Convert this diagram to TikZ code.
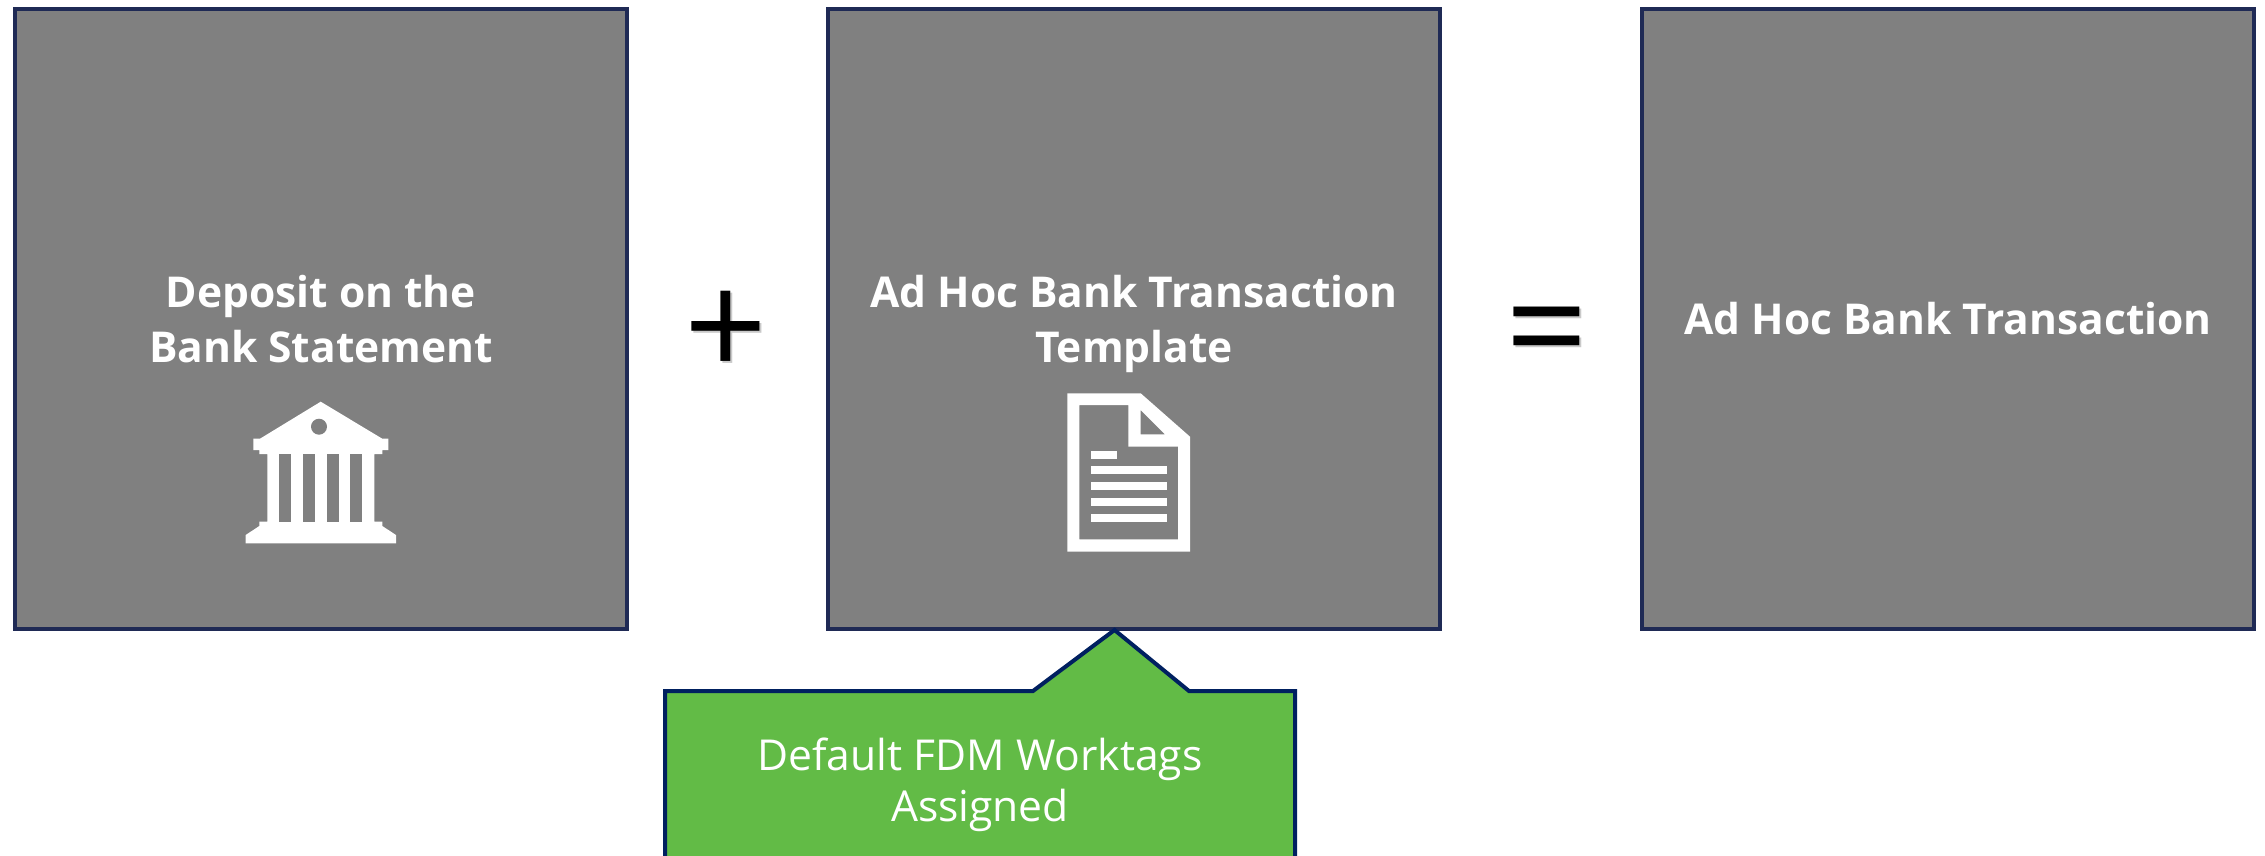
\documentclass[tikz,border=0pt]{standalone}
\usepackage{fontspec}
\setmainfont{Open Sans}
\definecolor{boxgray}{HTML}{808080}
\definecolor{boxline}{HTML}{1F2A55}
\definecolor{tagline}{HTML}{002060}
\definecolor{taggreen}{HTML}{62BB46}
\tikzset{
    panel/.style={draw=boxline, fill=boxgray, line width=4pt, minimum width=612pt, minimum height=620pt,
        inner sep=0pt, text=white, align=center, font=\fontsize{42.5}{55}\selectfont\bfseries},
    sign/.style={inner sep=0pt, anchor=base, font=\fontsize{145}{145}\selectfont},
    signshadow/.style={sign, text=black!30, opacity=0.7},
    icon/.style={fill=white, draw=none},
    iconhole/.style={fill=boxgray, draw=none}
}

\begin{document}
\begin{tikzpicture}[x=1pt,y=-1pt]
    \useasboundingbox (0,0) rectangle (2265,856);

    \node[panel] (deposit) at (321,319) {Deposit on the\\Bank Statement};
    \node[panel] (template) at (1134,319) {Ad Hoc Bank Transaction\\Tem\smash{p}late};
    \node[panel] (result) at (1948,319) {Ad Hoc Bank Transaction};

    \node[signshadow] at (728,379) {+};
    \node[sign] (plus) at (726,377) {+};
    \node[signshadow] at (1549,379) {=};
    \node[sign] (equals) at (1547,377) {=};

    % green tag, runs off the bottom edge
    \begin{scope}
    \clip (0,0) rectangle (2265,856);
    \draw[draw=tagline, fill=taggreen, line width=4pt, line join=miter]
        (665,870) -- (665,691) -- (1033,691) -- (1114.5,630) -- (1189,691) -- (1295,691) -- (1295,870) -- cycle;
    \end{scope}
    \node[text=white, align=center, inner sep=0pt, font=\fontsize{42.6}{51}\selectfont] (worktags) at (980,785)
        {Default FDM Worktags\\Assigned};

    % bank icon
    \fill[icon] (320.7,401.7) -- (382.3,438.7) -- (388.3,438.7) -- (388.3,450) -- (382.3,450) -- (382.3,454)
        -- (374.3,454) -- (374.3,521.7) -- (382.3,521.7) -- (382.3,526) -- (396,535) -- (396,543.3)
        -- (245.7,543.3) -- (245.7,535) -- (259.3,526) -- (259.3,521.7) -- (267.3,521.7) -- (267.3,454)
        -- (259.3,454) -- (259.3,450) -- (253.3,450) -- (253.3,438.7) -- (260,438.7) -- cycle;
    \foreach \gapx in {279.3,303,326.7,350.3}
        \fill[iconhole] (\gapx,454) rectangle (\gapx+12,521.7);
    \fill[iconhole] (319,426.7) circle (8);

    % document icon
    \fill[icon, even odd rule] (1067.3,393.3) -- (1140.7,393.3) -- (1190,436.7) -- (1190,551.7) -- (1067.3,551.7) -- cycle
        (1079.3,405) -- (1128.3,405) -- (1128.3,446.7) -- (1178,446.7) -- (1178,539.3) -- (1079.3,539.3) -- cycle
        (1140.7,410) -- (1165,434.3) -- (1140.7,434.3) -- cycle;
    \fill[icon] (1091,451) rectangle (1117,459);
    \foreach \liney in {466,482,498,514}
        \fill[icon] (1091,\liney) rectangle (1167,\liney+8);
\end{tikzpicture}
\end{document}
